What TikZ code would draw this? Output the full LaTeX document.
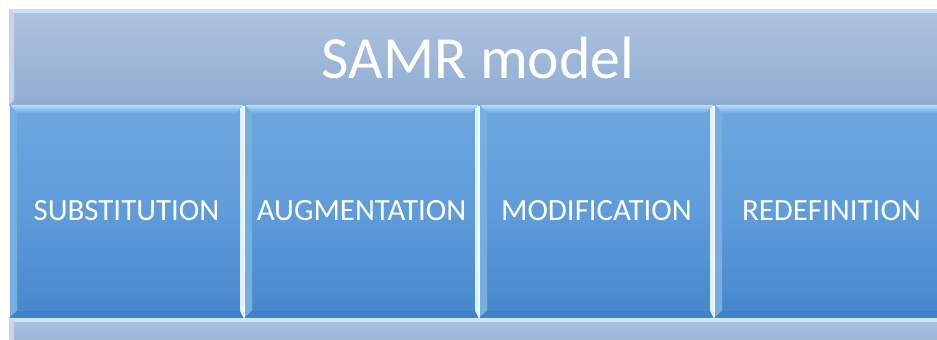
\documentclass[tikz,border=0pt]{standalone}
\usepackage{fontspec}
\setmainfont{Carlito}
\begin{document}
\begin{tikzpicture}[x=1bp,y=-1bp,
  lbl/.style={text=white, font=\fontsize{31}{36}\selectfont, inner sep=0pt},
  ttl/.style={text=white, font=\fontsize{60}{70}\selectfont, inner sep=0pt},
  ]
\definecolor{bandtop}{HTML}{AFC2DF}
\definecolor{bandbot}{HTML}{8FADD3}
\definecolor{boxtop}{HTML}{6DA7DE}
\definecolor{boxmid}{HTML}{5E9CDA}
\definecolor{boxbot}{HTML}{4687CC}
\definecolor{hilite}{HTML}{B5DDF8}
\definecolor{edgeL}{HTML}{76AEE0}
\definecolor{edgeR}{HTML}{DDF3FD}
\definecolor{edgeB}{HTML}{4282C8}
\useasboundingbox (0,0) rectangle (937,339);
\fill[white] (0,0) rectangle (937,339);
\begin{scope}
\clip (0,0) rectangle (937,339);
% top band
\shade[top color=bandtop, bottom color=bandbot] (9,9) rectangle (945,105);
\fill[hilite!80!white] (9,9) -- (945,9) -- (945,13) -- (14,13) -- cycle;
\fill[bandtop!70!white] (9,9) -- (14,13) -- (14,100) -- (9,105) -- cycle;
% bottom band
\shade[top color=bandtop, bottom color=bandbot!80!bandtop] (9,317) rectangle (945,345);
\fill[hilite!70!white] (9,317) -- (945,317) -- (945,322) -- (14,322) -- cycle;
\fill[bandtop!70!white] (9,317) -- (14,322) -- (14,345) -- (9,345) -- cycle;
% stages
\foreach \xx/\nm/\tx in {10/s/SUBSTITUTION,245/a/AUGMENTATION,480/m/MODIFICATION,715/r/REDEFINITION}{
  \shade[top color=boxtop, bottom color=boxbot, middle color=boxmid] (\xx,105) rectangle ++(233,212);
  \shade[top color=hilite, bottom color=boxtop] (\xx,105) -- ++(233,0) -- ++(-7,8) -- ++(-219,0) -- cycle;
  \fill[edgeL] (\xx,105) -- ++(7,8) -- ++(0,198) -- ++(-7,6) -- cycle;
  \fill[edgeR] (\xx+233,105) -- ++(0,212) -- ++(-3,-4) -- ++(0,-204) -- cycle;
  \fill[edgeB] (\xx,317) -- ++(7,-6) -- ++(223,0) -- ++(3,6) -- cycle;
  \node[lbl] (\nm) at (\xx+116.5,211) {\tx};
}
\end{scope}
\node[ttl] (title) at (478,58) {SAMR model};
\end{tikzpicture}
\end{document}
